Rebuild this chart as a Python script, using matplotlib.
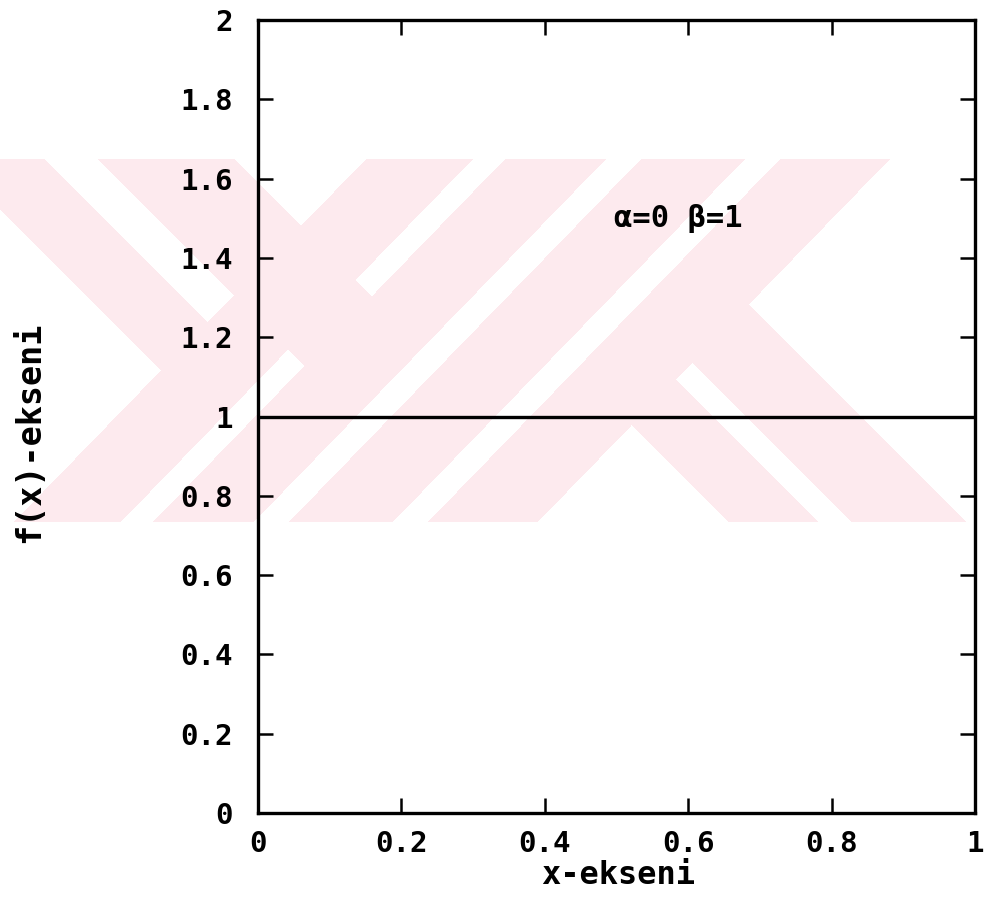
import numpy as np
import matplotlib
matplotlib.use("Agg")
import matplotlib.pyplot as plt

# ---- data -------------------------------------------------------------
x_vals = [0.0, 1.0]
f_vals = [1.0, 1.0]

x_ticks = [0.0, 0.2, 0.4, 0.6, 0.8, 1.0]
x_tick_labels = ["0", "0.2", "0.4", "0.6", "0.8", "1"]
y_ticks = [0.0, 0.2, 0.4, 0.6, 0.8, 1.0, 1.2, 1.4, 1.6, 1.8, 2.0]
y_tick_labels = ["0", "0.2", "0.4", "0.6", "0.8", "1", "1.2", "1.4", "1.6", "1.8", "2"]

x_label = "x-ekseni"
y_label = "f(x)-ekseni"
note_text = "α=0 β=1"
note_pos = (0.497, 1.5)

# ---- figure -----------------------------------------------------------
W, H = 985, 898
fig = plt.figure(figsize=(W / 100, H / 100), dpi=100)

# pale diagonal-stripe backdrop (raster in figure pixels)
yy, xx = np.mgrid[0:H, 0:W] + 0.5
t = yy - 159.0
strip = (yy >= 159) & (yy <= 522)


def rising(a, b, s=0.97):
    return (xx >= a - s * t) & (xx <= b - s * t)


def falling(a, b, s=1.0):
    return (xx >= a + s * t) & (xx <= b + s * t)


r1 = rising(366, 473)
r2 = rising(505, 606)
r3 = rising(641, 745)
r4 = rising(780, 890)
f1 = falling(-50, 44) & (xx <= 473 - 0.97 * t)
f2 = falling(98, 234) & (xx <= 606 - 0.97 * t)
beyond_r4 = xx > 890 - 0.97 * t
f3 = falling(366, 455) & beyond_r4
f4 = falling(489, 603) & beyond_r4
mask = strip & (r1 | r2 | r3 | r4 | f1 | f2 | f3 | f4)

img = np.ones((H, W, 3))
img[mask] = np.array([253, 234, 238]) / 255.0

bg = fig.add_axes([0, 0, 1, 1], zorder=0)
bg.imshow(img, aspect="auto", interpolation="nearest")
bg.axis("off")

# ---- main axes --------------------------------------------------------
left, right, top, bottom = 258, 975, 20, 813
ax = fig.add_axes([left / W, 1 - bottom / H, (right - left) / W, (bottom - top) / H],
                  zorder=1)
ax.set_facecolor("none")

ax.plot(x_vals, f_vals, color="black", lw=2.4)

ax.set_xlim(0, 1)
ax.set_ylim(0, 2)

mono = "DejaVu Sans Mono"
ax.set_xticks(x_ticks)
ax.set_xticklabels(x_tick_labels, family=mono, fontweight="bold", fontsize=21)
ax.set_yticks(y_ticks)
ax.set_yticklabels(y_tick_labels, family=mono, fontweight="bold", fontsize=21)
ax.tick_params(axis="both", which="major", direction="in", length=11, width=1.8,
               top=True, right=True, labeltop=False, labelright=False,
               colors="black")
ax.tick_params(axis="x", pad=12)
ax.tick_params(axis="y", pad=18)

for sp in ax.spines.values():
    sp.set_linewidth(2.4)
    sp.set_color("black")

ax.set_xlabel(x_label, family=mono, fontweight="bold", fontsize=23, va="center")
ax.xaxis.set_label_coords(0.502, -0.079)
ax.set_ylabel(y_label, family=mono, fontweight="bold", fontsize=24, va="center")
ax.yaxis.set_label_coords(-0.318, 0.48)

ax.text(note_pos[0], note_pos[1], note_text, family=mono, fontweight="bold",
        fontsize=22, ha="left", va="center")

fig.savefig("out.png", dpi=100)
